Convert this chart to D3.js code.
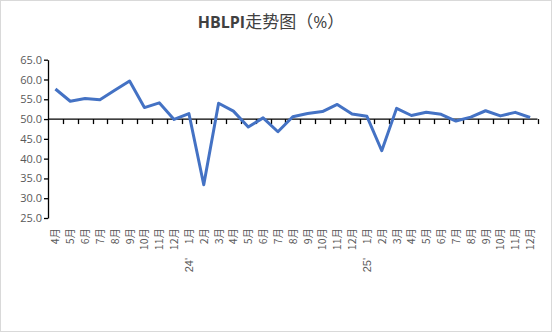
<!DOCTYPE html>
<html><head><meta charset="utf-8">
<script src="https://cdn.jsdelivr.net/npm/d3@7"></script>
<style>body{margin:0;background:#fff}svg{display:block}</style>
</head><body><svg id="c" width="552" height="332"></svg>
<script>
const months = ["4月","5月","6月","7月","8月","9月","10月","11月","12月",
 "1月","2月","3月","4月","5月","6月","7月","8月","9月","10月","11月","12月",
 "1月","2月","3月","4月","5月","6月","7月","8月","9月","10月","11月","12月"];
const yearMarks = [{index:9,label:"24'"},{index:21,label:"25'"}];
const values = [57.6,54.5,55.2,54.9,57.3,59.6,52.9,54.1,49.9,
 51.4,33.4,54.0,52.0,48.0,50.3,46.8,50.6,
 51.4,51.9,53.7,51.3,50.7,42.0,52.7,50.9,51.7,51.2,49.5,50.5,52.1,50.8,51.7,50.4];
const yTicks = [25,30,35,40,45,50,55,60,65];

(function(){
const svg = d3.select("#c");
svg.append("rect").attr("x",0.5).attr("y",0.5).attr("width",551).attr("height",331)
  .attr("fill","#fff").attr("stroke","#d9d9d9");
const title = svg.append("text").attr("x",271).attr("y",28).attr("text-anchor","middle")
  .attr("font-family","'Open Sans','Noto Sans CJK SC',sans-serif").attr("font-weight","bold")
  .attr("font-size",16).attr("fill","#404040");
title.append("tspan").text("HBLPI");
title.append("tspan").attr("font-weight","normal").attr("font-size",17).text("走势图（%）");

const pl=48, pr=537.5, pt=59.7, pb=218;
const x = d3.scaleBand().domain(d3.range(months.length)).range([pl,pr]);
const y = d3.scaleLinear().domain([25,65]).range([pb,pt]);

const ya = svg.append("g").attr("transform",`translate(${pl},0)`)
  .call(d3.axisLeft(y).tickValues(yTicks).tickFormat(d3.format(".1f")).tickSize(4).tickSizeOuter(0));
ya.select(".domain").attr("stroke","#000").attr("stroke-width",1.3);
ya.selectAll(".tick line").attr("stroke","#000").attr("stroke-width",1.3);
ya.selectAll(".tick text").attr("fill","#595959").attr("font-size",11)
  .attr("font-family","'Open Sans','Liberation Sans',sans-serif").attr("x",-6);

const xa = svg.append("g").attr("transform",`translate(0,${y(50)})`);
xa.append("line").attr("x1",pl).attr("x2",pr).attr("stroke","#000").attr("stroke-width",1.3);
xa.selectAll("line.t").data(d3.range(1,months.length+1)).join("line").attr("class","t")
  .attr("x1",d=>Math.round(pl+d*x.step())+0.5).attr("x2",d=>Math.round(pl+d*x.step())+0.5)
  .attr("y1",0).attr("y2",5).attr("stroke","#000").attr("stroke-width",1.3);

svg.append("g").selectAll("text").data(months).join("text")
  .attr("transform",(d,i)=>`translate(${x(i)+x.bandwidth()/2+4},228) rotate(-90)`)
  .attr("text-anchor","end").attr("font-size",10.5).attr("fill","#595959")
  .attr("font-family","'Noto Sans CJK SC',sans-serif").text(d=>d);
svg.append("g").selectAll("text").data(yearMarks).join("text")
  .attr("transform",d=>`translate(${x(d.index)+x.bandwidth()/2+4},258) rotate(-90)`)
  .attr("text-anchor","end").attr("font-size",11).attr("fill","#595959")
  .attr("font-family","'Liberation Sans',sans-serif").text(d=>d.label);

const line = d3.line().x((d,i)=>x(i)+x.bandwidth()/2).y(d=>y(d));
svg.append("path").datum(values).attr("d",line).attr("fill","none")
  .attr("stroke","#4472C4").attr("stroke-width",3).attr("stroke-linejoin","round");
})();
</script></body></html>
